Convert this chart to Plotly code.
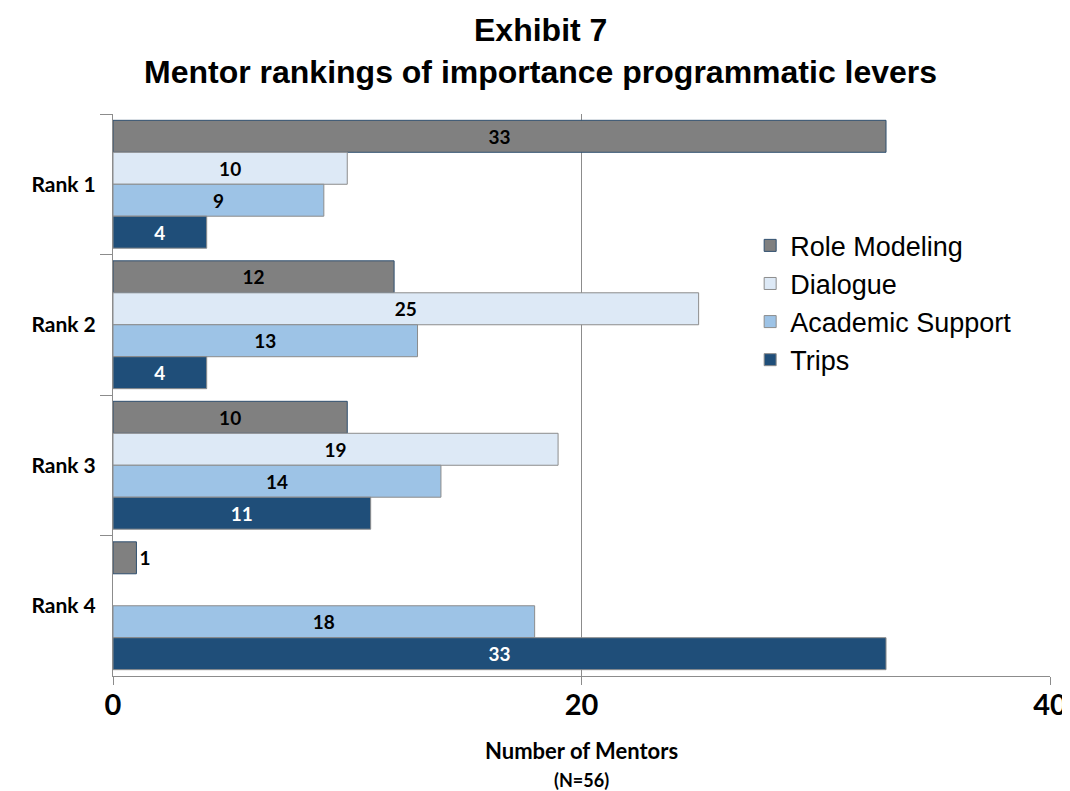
import plotly.graph_objects as go

categories = ["Rank 1", "Rank 2", "Rank 3", "Rank 4"]
role_modeling = [33, 12, 10, 1]
dialogue = [10, 25, 19, None]
academic_support = [9, 13, 14, 18]
trips = [4, 4, 11, 33]
x_ticks = [0, 20, 40]

LABEL = "Lato, Open Sans"
ARIAL = "Liberation Sans, Arial"

series = [
    ("Role Modeling", role_modeling, "#808080", "#2f4f6f", "black"),
    ("Dialogue", dialogue, "#dde9f6", "#8c8c8c", "black"),
    ("Academic Support", academic_support, "#9dc3e6", "#8c8c8c", "black"),
    ("Trips", trips, "#1f4e79", "#8c8c8c", "white"),
]

fig = go.Figure()
for name, vals, fill, border, tcol in series:
    texts = ["" if v is None else str(v) for v in vals]
    pos = ["outside" if (v is not None and v < 2) else "inside" for v in vals]
    fig.add_trace(go.Bar(
        name=name, y=categories, x=vals, orientation="h",
        marker=dict(color=fill, line=dict(color=border, width=1)),
        text=texts, textposition=pos, insidetextanchor="middle", textangle=0,
        insidetextfont=dict(color=tcol, size=19, family=LABEL, weight="bold"),
        outsidetextfont=dict(color="black", size=19, family=LABEL, weight="bold"),
        cliponaxis=False, hoverinfo="skip",
    ))

# page body adds an 8px offset; margins compensate so the plot sits at x 113-1050, y 114-676
fig.update_layout(
    width=1070, height=791,
    margin=dict(l=105, r=28, t=106, b=123),
    plot_bgcolor="white", paper_bgcolor="white",
    barmode="group", bargap=0.09, bargroupgap=0,
    showlegend=True,
    legend=dict(x=0.68, y=0.664, xanchor="left", yanchor="middle",
                font=dict(family=ARIAL, size=27, color="black"),
                tracegroupgap=0, itemwidth=30, bgcolor="rgba(0,0,0,0)"),
    uniformtext=dict(minsize=14, mode="show"),
)

TITLE_X = 0.456  # title centred on the page rather than the plot area
fig.add_annotation(text="<b>Exhibit 7</b>", xref="paper", yref="paper",
                   x=TITLE_X, y=1.0, yanchor="middle", yshift=84, showarrow=False,
                   font=dict(family=ARIAL, size=32, color="black"))
fig.add_annotation(text="<b>Mentor rankings of importance programmatic levers</b>",
                   xref="paper", yref="paper", x=TITLE_X, y=1.0, yanchor="middle",
                   yshift=42, showarrow=False,
                   font=dict(family=ARIAL, size=32, color="black"))
fig.add_annotation(text="<b>Number of Mentors</b>", xref="paper", yref="paper",
                   x=0.5, y=0, yanchor="middle", yshift=-74, showarrow=False,
                   font=dict(family=LABEL, size=22, color="black"))
fig.add_annotation(text="<b>(N=56)</b>", xref="paper", yref="paper",
                   x=0.5, y=0, yanchor="middle", yshift=-104, showarrow=False,
                   font=dict(family=LABEL, size=18, color="black"))

fig.update_xaxes(range=[0, 40], tickvals=x_ticks, ticktext=[str(t) for t in x_ticks],
                 showgrid=True, gridcolor="#8c8c8c", gridwidth=1,
                 showline=True, linecolor="#8c8c8c", linewidth=1,
                 ticks="outside", ticklen=8, tickcolor="#8c8c8c",
                 tickfont=dict(family=LABEL, size=29, color="black", weight="bold"),
                 ticklabelstandoff=-5,
                 zeroline=False, automargin=False)
fig.update_yaxes(autorange="reversed", showgrid=False,
                 showline=True, linecolor="#8c8c8c", linewidth=1,
                 ticks="outside", ticklen=12, tickcolor="#8c8c8c",
                 tickson="boundaries", automargin=False,
                 tickfont=dict(family=LABEL, size=21, color="black", weight="bold"),
                 ticklabelstandoff=12)

fig.write_html("out.html")
